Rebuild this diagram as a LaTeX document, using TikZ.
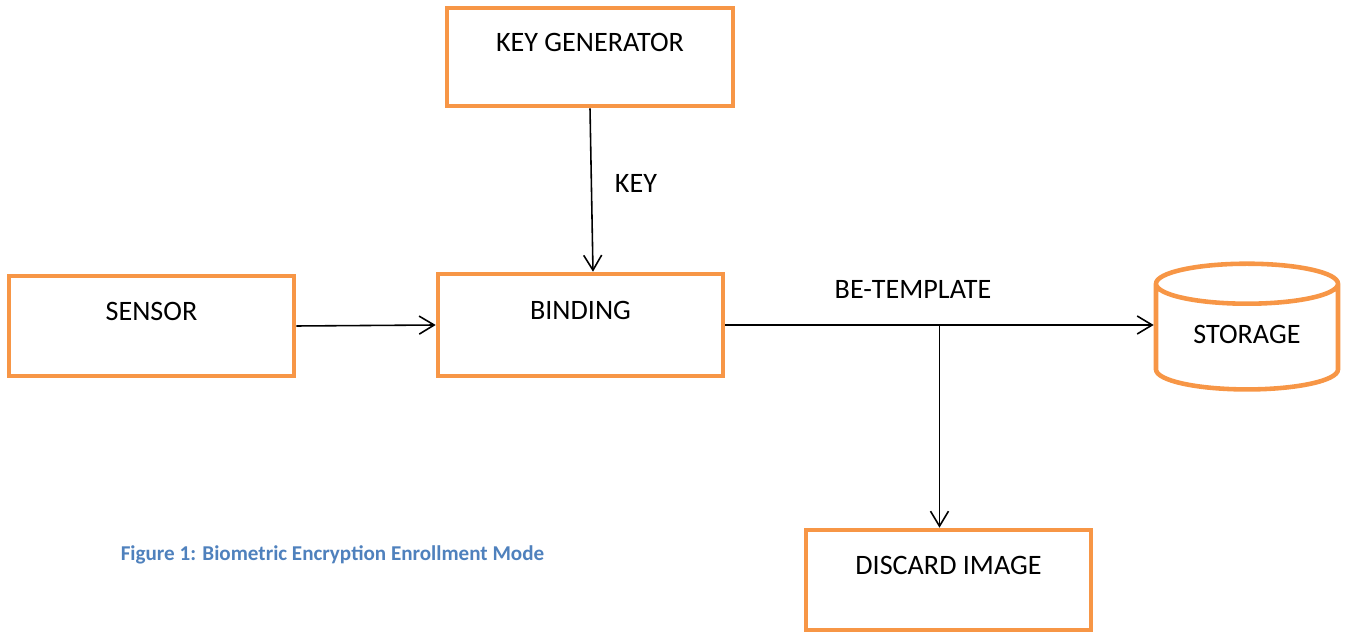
\documentclass[tikz,border=0pt]{standalone}
\usepackage{fontspec}
\setmainfont{Carlito}
\usepackage{tikz}
\usetikzlibrary{arrows.meta,shapes.geometric,calc}

\definecolor{boxorange}{HTML}{F79646}
\definecolor{capblue}{HTML}{4F81BD}

\tikzset{
    blockbox/.style={draw=boxorange, line width=2.6pt, minimum width=5.7cm, minimum height=2cm,
        inner sep=0pt, text height=0.34cm, text depth=0.56cm, font=\fontsize{16}{19}\selectfont},
    flow/.style={line width=0.9pt, -{Straight Barb[length=0.3cm,width=0.36cm]}},
    flowlabel/.style={font=\fontsize{16}{19}\selectfont}
}

\begin{document}
\begin{tikzpicture}
    \useasboundingbox (0,0) rectangle (26.92,12.64);

    % Boxes
    \node[blockbox, minimum width=5.72cm, minimum height=1.96cm] (keygen) at (11.8,11.5) {KEY GENERATOR};
    \node[blockbox] (sensor) at (3.03,6.12) {SENSOR};
    \node[blockbox, minimum height=2.04cm] (bind) at (11.61,6.14) {BINDING};
    \node[blockbox] (discard) at (18.97,1.04) {DISCARD IMAGE};
    \node[draw=boxorange, line width=2.6pt, cylinder, shape border rotate=90, aspect=0.5,
        minimum width=3.64cm, minimum height=2cm, inner sep=0.8cm,
        label={[flowlabel, yshift=0.24cm]center:STORAGE}] (store) at (24.94,5.72) {};

    % Arrows
    \draw[flow] (keygen.south) -- ([xshift=0.25cm]bind.north);
    \draw[flow] (sensor.east) -- (bind.west);
    \draw[flow] (bind.east) -- (bind.east -| store.west);
    \coordinate (split) at ($(bind.east)!0.5!(bind.east -| store.west)$);
    \draw[flow] (split) -- (split |- discard.north);

    % Labels
    \node[flowlabel] (keylbl) at (12.72,8.98) {KEY};
    \node[flowlabel] (tpllbl) at (18.26,6.86) {BE-TEMPLATE};
    \node[font=\fontsize{12}{14}\selectfont\bfseries, text=capblue] (caption) at (6.65,1.54)
        {Figure 1: Biometric Encryption Enrollment Mode};
\end{tikzpicture}
\end{document}
